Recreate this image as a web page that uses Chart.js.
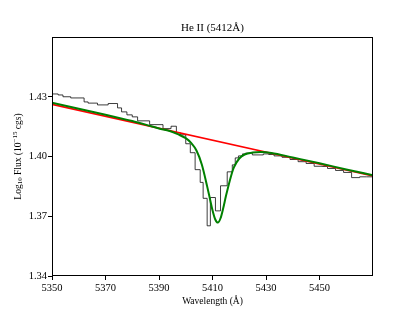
<!DOCTYPE html>
<html>
<head>
<meta charset="utf-8">
<script src="https://cdn.jsdelivr.net/npm/chart.js@4.4.0/dist/chart.umd.min.js"></script>
<style>
    html, body { margin: 0; padding: 0; background: #fff; }
    #wrap { width: 415px; height: 311px; }
</style>
</head>
<body>
<div id="wrap"><canvas id="myChart" width="415" height="311"></canvas></div>
<script>
// observed spectrum: bin left edges (A) and log flux, last edge closes the final bin
var binEdges = [5350, 5352.3, 5354.1, 5357, 5362, 5363.5, 5367, 5371, 5374.5, 5376,
    5378, 5380, 5382, 5386.5, 5391.5, 5394.5, 5396.5, 5398, 5400, 5401.7,
    5403.5, 5405.4, 5406.5, 5408, 5409.2, 5411.1, 5413, 5415.5, 5417.4, 5418.5,
    5419.7, 5421.2, 5422.3, 5424.9, 5429, 5431, 5433, 5436, 5439, 5442,
    5445, 5448, 5451, 5453, 5456, 5459, 5462, 5465, 5467.5, 5470];
var obsFlux = [1.4323, 1.4314, 1.4309, 1.4300, 1.4294, 1.4274, 1.4268, 1.4259, 1.4266, 1.4244,
    1.4224, 1.4209, 1.4199, 1.4179, 1.4160, 1.4140, 1.4152, 1.4119, 1.4109, 1.4064,
    1.4019, 1.3934, 1.3870, 1.3790, 1.3652, 1.3794, 1.3727, 1.3853, 1.3923, 1.3958,
    1.3993, 1.4003, 1.4013, 1.4017, 1.4008, 1.4013, 1.4010, 1.4003, 1.3996, 1.3985,
    1.3974, 1.3965, 1.3951, 1.3950, 1.3940, 1.3930, 1.3920, 1.3894, 1.3898];

// continuum (red)
var contWave = [5350, 5470];
var contFlux = [1.4262, 1.3902];

// line fit (green)
var fitWave = [5350, 5360, 5370, 5380, 5385, 5390, 5394, 5397, 5400, 5402,
    5404, 5406, 5408, 5409, 5410, 5411, 5412, 5413, 5414, 5415,
    5416, 5417, 5418, 5420, 5422, 5425, 5428, 5432, 5440, 5450, 5460, 5470];
var fitFlux = [1.4270, 1.4240, 1.4210, 1.4178, 1.4160, 1.4141, 1.4128, 1.4112, 1.4092, 1.4068,
    1.4030, 1.3960, 1.3850, 1.3790, 1.3730, 1.3685, 1.3668, 1.3690, 1.3740, 1.3800,
    1.3855, 1.3905, 1.3945, 1.3990, 1.4010, 1.4020, 1.4022, 1.4018, 1.3995, 1.3966, 1.3935, 1.3906];

var xTicks = [5350, 5370, 5390, 5410, 5430, 5450];
var yTicks = [1.34, 1.37, 1.40, 1.43];

function toPoints(xs, ys) {
    var pts = [];
    xs.forEach(function (x, i) {
        pts.push({ x: x, y: ys[i] });
    });
    return pts;
}

var obsPoints = toPoints(binEdges, obsFlux);
// close the last step at the final edge
obsPoints[obsPoints.length - 1].y = obsFlux[obsFlux.length - 1];

var serif = '"Liberation Serif", "DejaVu Serif", serif';

var framePlugin = {
    id: 'frame',
    afterDraw: function (chart) {
        var ctx = chart.ctx;
        var a = chart.chartArea;
        ctx.save();
        ctx.strokeStyle = '#000';
        ctx.lineWidth = 1;
        ctx.strokeRect(Math.round(a.left) + 0.5, Math.round(a.top) + 0.5,
            Math.round(a.right - a.left) - 1, Math.round(a.bottom - a.top) - 1);

        ctx.fillStyle = '#000';
        ctx.textAlign = 'center';
        ctx.textBaseline = 'middle';
        var cx = (a.left + a.right) / 2;
        ctx.font = '11px ' + serif;
        ctx.fillText('He II (5412Å)', cx, 28);
        ctx.font = '9.5px ' + serif;
        ctx.fillText('Wavelength (Å)', cx, 301);

        // y label with sub/superscripts
        var parts = [
            { t: 'Log', s: 9.5, dy: 0 },
            { t: '10', s: 7, dy: 2 },
            { t: ' Flux (10', s: 9.5, dy: 0 },
            { t: '−15', s: 7, dy: -3 },
            { t: ' cgs)', s: 9.5, dy: 0 }
        ];
        var total = 0;
        parts.forEach(function (p) {
            ctx.font = p.s + 'px ' + serif;
            p.w = ctx.measureText(p.t).width;
            total += p.w;
        });
        ctx.translate(18, (a.top + a.bottom) / 2);
        ctx.rotate(-Math.PI / 2);
        ctx.textAlign = 'left';
        var pos = -total / 2;
        parts.forEach(function (p) {
            ctx.font = p.s + 'px ' + serif;
            ctx.fillText(p.t, pos, p.dy);
            pos += p.w;
        });
        ctx.restore();
    }
};

var ctx = document.getElementById('myChart');

new Chart(ctx, {
    type: 'line',
    data: {
        datasets: [{
            label: 'fit',
            data: toPoints(fitWave, fitFlux),
            borderColor: '#008000',
            borderWidth: 2,
            pointRadius: 0,
            fill: false,
            cubicInterpolationMode: 'monotone',
            order: 0
        }, {
            label: 'continuum',
            data: toPoints(contWave, contFlux),
            borderColor: '#ff0000',
            borderWidth: 1.6,
            pointRadius: 0,
            fill: false,
            order: 1
        }, {
            label: 'observed',
            data: obsPoints,
            borderColor: 'rgba(0,0,0,0.85)',
            borderWidth: 0.9,
            pointRadius: 0,
            fill: false,
            stepped: 'after',
            order: 2
        }]
    },
    options: {
        responsive: false,
        animation: false,
        devicePixelRatio: 1,
        layout: { padding: { left: 0, right: 42, top: 37, bottom: 0 } },
        plugins: {
            legend: { display: false },
            tooltip: { enabled: false }
        },
        scales: {
            x: {
                type: 'linear',
                min: 5350,
                max: 5470,
                afterBuildTicks: function (axis) {
                    axis.ticks = xTicks.map(function (v) { return { value: v }; });
                },
                afterFit: function (scale) { scale.height = 35; },
                grid: { drawOnChartArea: false, drawTicks: true, tickLength: 4, color: '#000', lineWidth: 1 },
                border: { display: false },
                ticks: {
                    color: '#000',
                    padding: 2,
                    maxRotation: 0,
                    font: { family: serif, size: 10.5 },
                    callback: function (v) { return String(v); }
                }
            },
            y: {
                type: 'linear',
                min: 1.34,
                max: 1.46,
                afterBuildTicks: function (axis) {
                    axis.ticks = yTicks.map(function (v) { return { value: v }; });
                },
                afterFit: function (scale) { scale.width = 52; },
                grid: { drawOnChartArea: false, drawTicks: true, tickLength: 4, color: '#000', lineWidth: 1 },
                border: { display: false },
                ticks: {
                    color: '#000',
                    padding: 1,
                    font: { family: serif, size: 10.5 },
                    callback: function (v) { return Number(v).toFixed(2); }
                }
            }
        }
    },
    plugins: [framePlugin]
});
</script>
</body>
</html>
